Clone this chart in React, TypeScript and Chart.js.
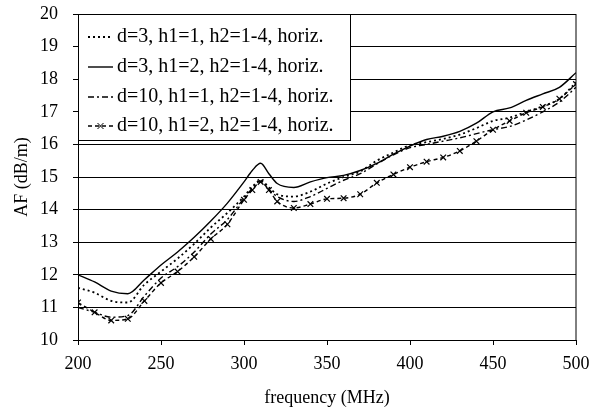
import React, { useEffect, useRef } from "react";
import { Chart, registerables } from "chart.js";

Chart.register(...registerables);

const freqs = [200, 210, 220, 230, 240, 250, 260, 270, 280, 290, 300, 305, 310, 315, 320, 330, 340, 350, 360, 370, 380, 390, 400, 410, 420, 430, 440, 450, 460, 470, 480, 490, 500];

const d3h1 = [11.6, 11.45, 11.2, 11.15, 11.7, 12.1, 12.5, 12.95, 13.45, 13.9, 14.4, 14.7, 14.9, 14.68, 14.47, 14.4, 14.55, 14.8, 15.0, 15.17, 15.5, 15.75, 15.98, 16.07, 16.17, 16.3, 16.5, 16.72, 16.82, 17.0, 17.17, 17.4, 17.9];
const d3h2 = [12.0, 11.78, 11.5, 11.42, 11.85, 12.3, 12.7, 13.15, 13.65, 14.2, 14.85, 15.2, 15.42, 15.1, 14.8, 14.68, 14.85, 14.98, 15.05, 15.2, 15.42, 15.7, 15.95, 16.15, 16.25, 16.4, 16.65, 17.0, 17.12, 17.35, 17.55, 17.75, 18.2];
const d10h1 = [11.0, 10.85, 10.7, 10.75, 11.35, 11.9, 12.25, 12.7, 13.25, 13.7, 14.35, 14.65, 14.88, 14.62, 14.4, 14.25, 14.4, 14.65, 14.9, 15.1, 15.4, 15.68, 15.9, 16.0, 16.1, 16.2, 16.33, 16.45, 16.55, 16.75, 17.0, 17.3, 17.75];
const d10h2 = [11.15, 10.85, 10.6, 10.65, 11.2, 11.75, 12.1, 12.55, 13.1, 13.55, 14.3, 14.6, 14.85, 14.6, 14.25, 14.05, 14.17, 14.33, 14.35, 14.47, 14.82, 15.08, 15.3, 15.47, 15.6, 15.8, 16.1, 16.45, 16.72, 16.97, 17.15, 17.4, 17.85];

const seriesLabels = [
  "d=3, h1=1, h2=1-4, horiz.",
  "d=3, h1=2, h2=1-4, horiz.",
  "d=10, h1=1, h2=1-4, horiz.",
  "d=10, h1=2, h2=1-4, horiz.",
];

const xTitle = "frequency (MHz)";
const yTitle = "AF (dB/m)";

const FONT = "'Liberation Serif', 'Times New Roman', serif";

const toPts = (arr: number[]) => freqs.map((f, i) => ({ x: f, y: arr[i] }));

const legendPlugin = {
  id: "boxLegend",
  afterDatasetsDraw(chart: any) {
    const { ctx, chartArea } = chart;
    const L = chartArea.left;
    const T = chartArea.top;
    const W = 272;
    const H = 126;
    ctx.save();
    ctx.fillStyle = "#fff";
    ctx.fillRect(L, T, W, H);
    ctx.strokeStyle = "#000";
    ctx.lineWidth = 1;
    ctx.setLineDash([]);
    ctx.strokeRect(L + 0.5, T + 0.5, W, H);
    const rowY = [23, 53, 83, 112];
    chart.data.datasets.forEach((ds: any, i: number) => {
      const y = T + rowY[i];
      const x0 = L + 10;
      const x1 = L + 35;
      ctx.strokeStyle = "#000";
      ctx.lineWidth = ds.borderWidth;
      ctx.setLineDash(ds.borderDash || []);
      ctx.beginPath();
      ctx.moveTo(x0, y);
      ctx.lineTo(x1, y);
      ctx.stroke();
      ctx.setLineDash([]);
      if (ds.pointRadius > 0) {
        const cx = (x0 + x1) / 2;
        const r = 3;
        ctx.lineWidth = 1;
        ctx.beginPath();
        ctx.moveTo(cx - r, y - r);
        ctx.lineTo(cx + r, y + r);
        ctx.moveTo(cx + r, y - r);
        ctx.lineTo(cx - r, y + r);
        ctx.stroke();
      }
      ctx.fillStyle = "#000";
      ctx.font = `20px ${FONT}`;
      ctx.textBaseline = "middle";
      ctx.textAlign = "left";
      ctx.fillText(ds.label, x1 + 4, y);
    });
    // right border of the plot area
    ctx.strokeStyle = "#000";
    ctx.lineWidth = 1;
    ctx.beginPath();
    ctx.moveTo(chartArea.right, chartArea.top);
    ctx.lineTo(chartArea.right, chartArea.bottom);
    ctx.stroke();
    ctx.restore();
  },
};

export default function App() {
  const ref = useRef<HTMLCanvasElement | null>(null);
  useEffect(() => {
    if (!ref.current) return;
    const common = {
      borderColor: "#000",
      backgroundColor: "#000",
      fill: false,
      cubicInterpolationMode: "monotone" as const,
    };
    const chart = new Chart(ref.current, {
      type: "line",
      data: {
        datasets: [
          { ...common, label: seriesLabels[0], data: toPts(d3h1), borderWidth: 1.8, borderDash: [2, 3], pointRadius: 0 },
          { ...common, label: seriesLabels[1], data: toPts(d3h2), borderWidth: 1.4, borderDash: [], pointRadius: 0 },
          { ...common, label: seriesLabels[2], data: toPts(d10h1), borderWidth: 1.4, borderDash: [6, 3, 2, 3], pointRadius: 0 },
          { ...common, label: seriesLabels[3], data: toPts(d10h2), borderWidth: 1.4, borderDash: [4, 3], pointRadius: 4, pointStyle: "crossRot", pointBorderWidth: 1.2, pointBorderColor: "#000" },
        ],
      },
      options: {
        animation: false,
        responsive: true,
        maintainAspectRatio: false,
        layout: { padding: { top: 14, right: 20, left: 0, bottom: 0 } },
        plugins: { legend: { display: false }, tooltip: { enabled: false } },
        scales: {
          x: {
            type: "linear",
            min: 200,
            max: 500,
            ticks: { stepSize: 50, color: "#000", font: { family: FONT, size: 18 }, padding: 8, maxRotation: 0 },
            grid: { drawOnChartArea: false, drawTicks: true, tickLength: 5, color: "#000" },
            border: { color: "#000", width: 1 },
            title: { display: true, text: xTitle, color: "#000", font: { family: FONT, size: 18 }, padding: { top: 0, bottom: 5 } },
            afterFit: (s: any) => { s.height = 74; s.paddingLeft = 0; s.paddingRight = 0; },
          },
          y: {
            min: 10,
            max: 20,
            ticks: { stepSize: 1, color: "#000", font: { family: FONT, size: 18 }, padding: 15 },
            grid: { color: "#000", lineWidth: 1, tickLength: 5 },
            border: { color: "#000", width: 1 },
            title: { display: true, text: yTitle, color: "#000", font: { family: FONT, size: 18 }, padding: { top: 11, bottom: 0 } },
            afterFit: (s: any) => { s.width = 78; s.paddingTop = 0; s.paddingBottom = 0; },
          },
        },
      },
      plugins: [legendPlugin],
    });
    return () => chart.destroy();
  }, []);
  return (
    <div style={{ position: "absolute", left: 0, top: 0, width: 596, height: 414, background: "#fff" }}>
      <canvas ref={ref} />
    </div>
  );
}
